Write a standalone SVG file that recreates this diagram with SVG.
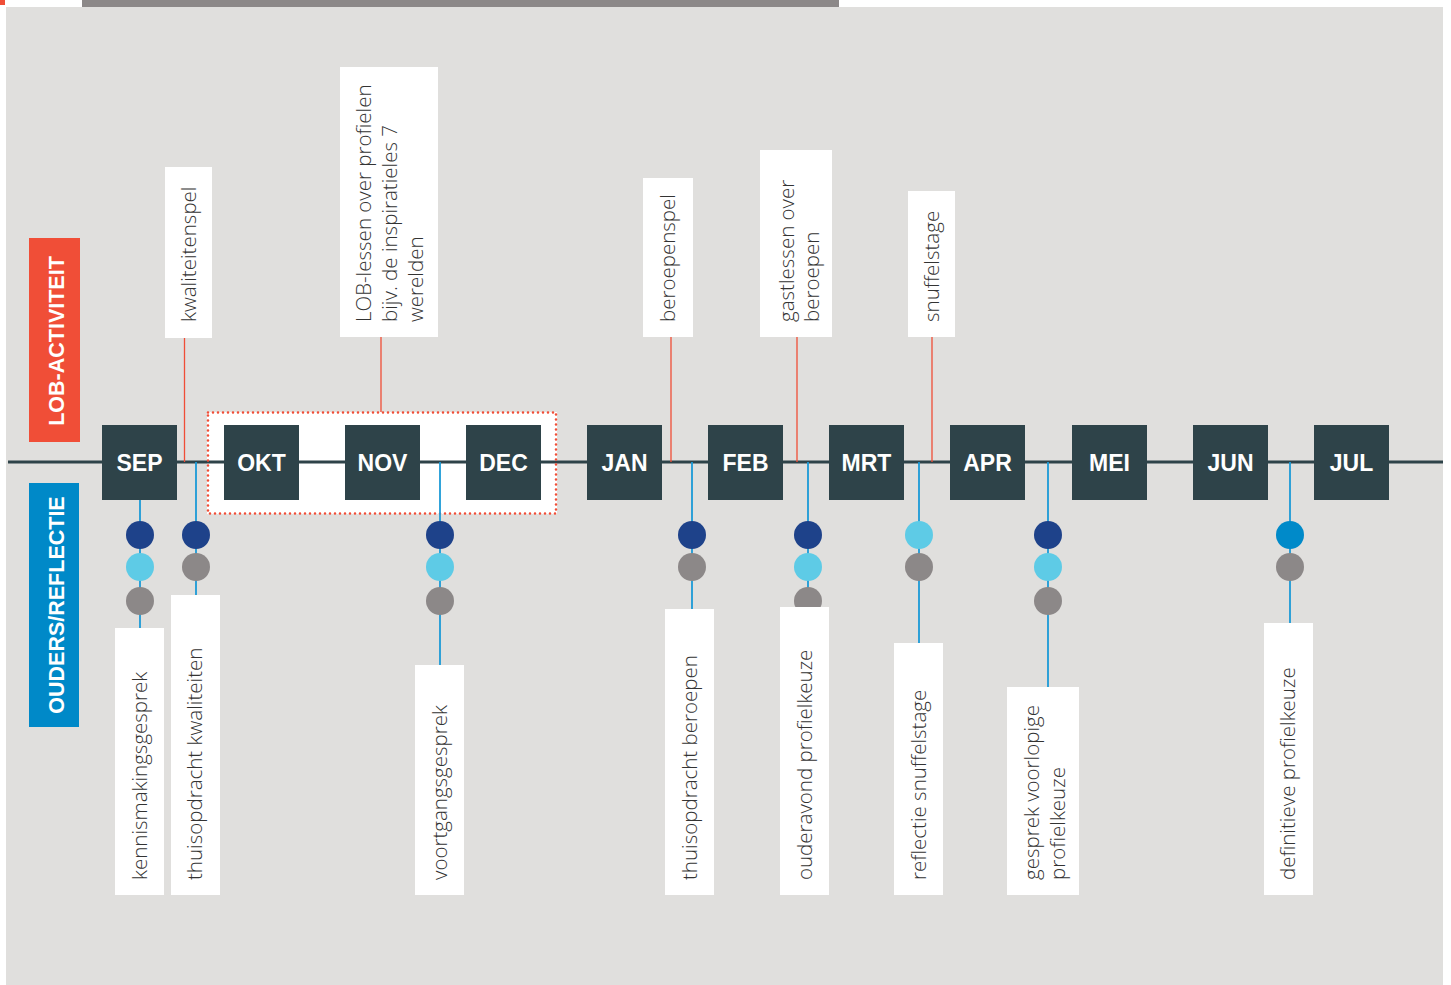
<svg xmlns="http://www.w3.org/2000/svg" width="1451" height="985" viewBox="0 0 1451 985">
<style>
.bg{fill:#e0dfdd}
.lbl{fill:#ffffff}
.month rect{fill:#2e4349}
.month text{fill:#ffffff;font-family:"Liberation Sans",Arial,sans-serif;font-weight:bold;font-size:23px;text-anchor:middle}
.t{fill:#333333;font-family:"Open Sans","Liberation Sans",sans-serif;font-size:20.5px;font-weight:300}
.side{fill:#ffffff;font-family:"Liberation Sans",Arial,sans-serif;font-weight:bold;font-size:21.5px;text-anchor:middle}
.red{stroke:#f04e37;stroke-width:1.3;fill:none}
.blue{stroke:#1b9ad6;stroke-width:1.8;fill:none}
.c1{fill:#1e428a}
.c2{fill:#5ecbe6}
.c3{fill:#8c8888}
.c4{fill:#008ac9}
</style>
<rect x="0" y="0" width="1451" height="985" fill="#ffffff"/>
<rect class="bg" x="6" y="7" width="1437" height="978"/>
<rect x="0" y="0" width="5" height="5" fill="#f04e37"/>
<rect x="82" y="0" width="757" height="7" fill="#8c8888"/>

<g id="side-labels">
<rect x="29" y="238" width="51" height="204" fill="#f04e37"/>
<text class="side" transform="translate(63.5,341) rotate(-90)">LOB-ACTIVITEIT</text>
<rect x="29" y="483" width="50" height="244" fill="#0089c8"/>
<text class="side" transform="translate(63.5,605) rotate(-90)">OUDERS/REFLECTIE</text>
</g>

<rect id="period-box" x="207" y="412" width="350" height="102" fill="#ffffff"/>

<g id="connectors">
<line x1="8" y1="462" x2="1443" y2="462" stroke="#2e4349" stroke-width="3"/>
<rect x="208" y="412.5" width="348" height="101" fill="none" stroke="#f04e37" stroke-width="2.6" stroke-dasharray="0 5" stroke-linecap="round"/>
<line class="red" x1="184.5" y1="338" x2="184.5" y2="462"/>
<line class="red" x1="381" y1="337" x2="381" y2="412"/>
<line class="red" x1="671" y1="337" x2="671" y2="462"/>
<line class="red" x1="797" y1="337" x2="797" y2="462"/>
<line class="red" x1="932" y1="337" x2="932" y2="462"/>
<line class="blue" x1="140" y1="499" x2="140" y2="628"/>
<line class="blue" x1="196" y1="462" x2="196" y2="595"/>
<line class="blue" x1="440" y1="462" x2="440" y2="665"/>
<line class="blue" x1="692" y1="462" x2="692" y2="609"/>
<line class="blue" x1="808" y1="462" x2="808" y2="607"/>
<line class="blue" x1="919" y1="462" x2="919" y2="643"/>
<line class="blue" x1="1048" y1="462" x2="1048" y2="687"/>
<line class="blue" x1="1290" y1="462" x2="1290" y2="623"/>
</g>

<g id="months">
<g class="month" id="m-sep"><rect x="102" y="425" width="75" height="75"/><text x="139.5" y="470.5">SEP</text></g>
<g class="month" id="m-okt"><rect x="224" y="425" width="75" height="75"/><text x="261.5" y="470.5">OKT</text></g>
<g class="month" id="m-nov"><rect x="345" y="425" width="75" height="75"/><text x="382.5" y="470.5">NOV</text></g>
<g class="month" id="m-dec"><rect x="466" y="425" width="75" height="75"/><text x="503.5" y="470.5">DEC</text></g>
<g class="month" id="m-jan"><rect x="587" y="425" width="75" height="75"/><text x="624.5" y="470.5">JAN</text></g>
<g class="month" id="m-feb"><rect x="708" y="425" width="75" height="75"/><text x="745.5" y="470.5">FEB</text></g>
<g class="month" id="m-mrt"><rect x="829" y="425" width="75" height="75"/><text x="866.5" y="470.5">MRT</text></g>
<g class="month" id="m-apr"><rect x="950" y="425" width="75" height="75"/><text x="987.5" y="470.5">APR</text></g>
<g class="month" id="m-mei"><rect x="1072" y="425" width="75" height="75"/><text x="1109.5" y="470.5">MEI</text></g>
<g class="month" id="m-jun"><rect x="1193" y="425" width="75" height="75"/><text x="1230.5" y="470.5">JUN</text></g>
<g class="month" id="m-jul"><rect x="1314" y="425" width="75" height="75"/><text x="1351.5" y="470.5">JUL</text></g>
</g>

<g id="lob-kwaliteitenspel"><rect class="lbl" x="165" y="167" width="47" height="171"/><text class="t" transform="translate(196,322) rotate(-90)">kwaliteitenspel</text></g>
<g id="lob-lessen"><rect class="lbl" x="340" y="67" width="98" height="270"/>
<text class="t" transform="translate(371,322) rotate(-90)">LOB-lessen over profielen</text>
<text class="t" transform="translate(397,322) rotate(-90)">bijv. de inspiratieles 7</text>
<text class="t" transform="translate(423,322) rotate(-90)">werelden</text></g>
<g id="lob-beroepenspel"><rect class="lbl" x="643" y="178" width="50" height="159"/><text class="t" transform="translate(675,322) rotate(-90)">beroepenspel</text></g>
<g id="lob-gastlessen"><rect class="lbl" x="760" y="150" width="72" height="187"/>
<text class="t" transform="translate(794,322) rotate(-90)">gastlessen over</text>
<text class="t" transform="translate(819,322) rotate(-90)">beroepen</text></g>
<g id="lob-snuffelstage"><rect class="lbl" x="908" y="191" width="47" height="146"/><text class="t" transform="translate(939,322) rotate(-90)">snuffelstage</text></g>

<g id="o-kennismaking">
<circle class="c1" cx="140" cy="535" r="14"/><circle class="c2" cx="140" cy="567" r="14"/><circle class="c3" cx="140" cy="601" r="14"/>
<rect class="lbl" x="115" y="628" width="49" height="267"/><text class="t" transform="translate(147,880) rotate(-90)">kennismakingsgesprek</text></g>
<g id="o-thuis-kwal">
<circle class="c1" cx="196" cy="535" r="14"/><circle class="c3" cx="196" cy="567" r="14"/>
<rect class="lbl" x="171" y="595" width="49" height="300"/><text class="t" transform="translate(202,880) rotate(-90)">thuisopdracht kwaliteiten</text></g>
<g id="o-voortgang">
<circle class="c1" cx="440" cy="535" r="14"/><circle class="c2" cx="440" cy="567" r="14"/><circle class="c3" cx="440" cy="601" r="14"/>
<rect class="lbl" x="415" y="665" width="49" height="230"/><text class="t" transform="translate(447,880) rotate(-90)">voortgangsgesprek</text></g>
<g id="o-thuis-ber">
<circle class="c1" cx="692" cy="535" r="14"/><circle class="c3" cx="692" cy="567" r="14"/>
<rect class="lbl" x="665" y="609" width="49" height="286"/><text class="t" transform="translate(697,880) rotate(-90)">thuisopdracht beroepen</text></g>
<g id="o-ouderavond">
<circle class="c1" cx="808" cy="535" r="14"/><circle class="c2" cx="808" cy="567" r="14"/><circle class="c3" cx="808" cy="601" r="14"/>
<rect class="lbl" x="780" y="607" width="49" height="288"/><text class="t" transform="translate(812,880) rotate(-90)">ouderavond profielkeuze</text></g>
<g id="o-reflectie">
<circle class="c2" cx="919" cy="535" r="14"/><circle class="c3" cx="919" cy="567" r="14"/>
<rect class="lbl" x="894" y="643" width="49" height="252"/><text class="t" transform="translate(926,880) rotate(-90)">reflectie snuffelstage</text></g>
<g id="o-voorlopig">
<circle class="c1" cx="1048" cy="535" r="14"/><circle class="c2" cx="1048" cy="567" r="14"/><circle class="c3" cx="1048" cy="601" r="14"/>
<rect class="lbl" x="1007" y="687" width="72" height="208"/>
<text class="t" transform="translate(1039,880) rotate(-90)">gesprek voorlopige</text>
<text class="t" transform="translate(1065,880) rotate(-90)">profielkeuze</text></g>
<g id="o-definitief">
<circle class="c4" cx="1290" cy="535" r="14"/><circle class="c3" cx="1290" cy="567" r="14"/>
<rect class="lbl" x="1264" y="623" width="49" height="272"/><text class="t" transform="translate(1295,880) rotate(-90)">definitieve profielkeuze</text></g>
</svg>
